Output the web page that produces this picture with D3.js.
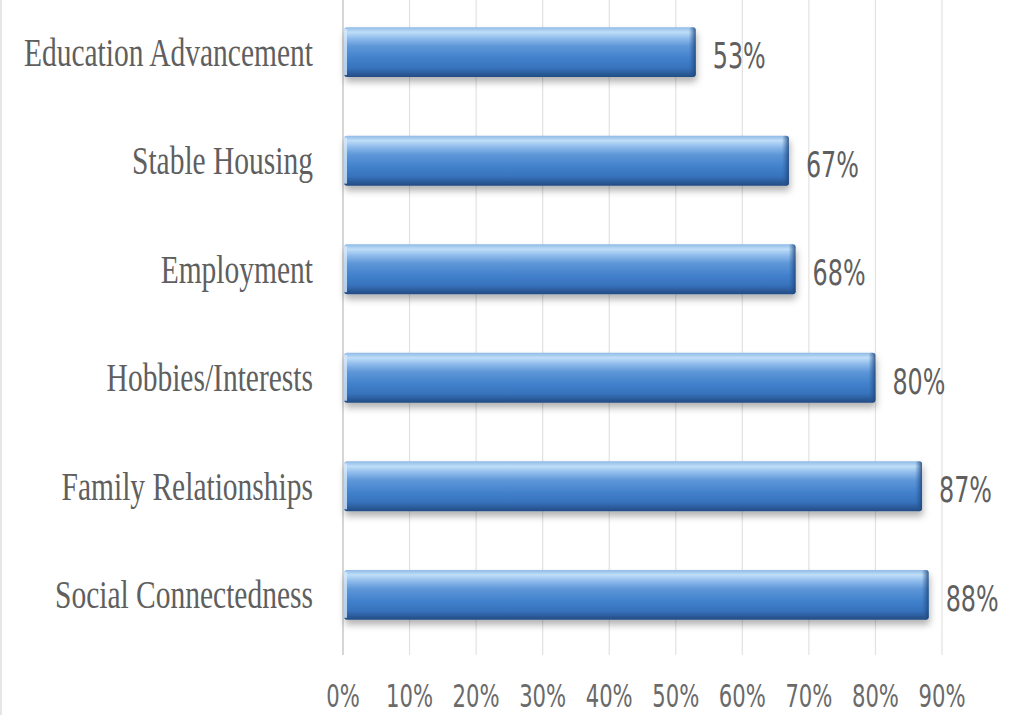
<!DOCTYPE html>
<html>
<head>
<meta charset="utf-8">
<script src="https://cdn.jsdelivr.net/npm/d3@7"></script>
<style>
  html, body { margin: 0; padding: 0; background: #fff; }
  svg { display: block; }
</style>
</head>
<body>
<div id="chart"></div>
<script>
// data
const categories = [
  "Education Advancement",
  "Stable Housing",
  "Employment",
  "Hobbies/Interests",
  "Family Relationships",
  "Social Connectedness"
];
const values = [0.53, 0.67, 0.68, 0.80, 0.87, 0.88];
const tickValues = [0, 0.1, 0.2, 0.3, 0.4, 0.5, 0.6, 0.7, 0.8, 0.9];

const width = 1012;
const height = 715;
const margin = { top: 0, right: 70, bottom: 68, left: 343 };

const svg = d3.select("#chart")
  .append("svg")
  .attr("width", width)
  .attr("height", height);

const defs = svg.append("defs");

const grad = defs.append("linearGradient")
  .attr("id", "barGrad")
  .attr("x1", 0).attr("y1", 0).attr("x2", 0).attr("y2", 1);
[
  [0, "#8fb9e6"],
  [0.1, "#bfdef8"],
  [0.22, "#90bcec"],
  [0.38, "#5e97d8"],
  [0.62, "#4281cc"],
  [0.82, "#3772bc"],
  [1, "#234b82"]
].forEach(([o, c]) => grad.append("stop").attr("offset", o).attr("stop-color", c));

const endGrad = defs.append("linearGradient")
  .attr("id", "endGrad")
  .attr("x1", 0).attr("y1", 0).attr("x2", 1).attr("y2", 0);
endGrad.append("stop").attr("offset", 0).attr("stop-color", "#2d5f9f").attr("stop-opacity", 0);
endGrad.append("stop").attr("offset", 1).attr("stop-color", "#1f4577").attr("stop-opacity", 0.85);

const shadow = defs.append("filter")
  .attr("id", "shadow")
  .attr("x", "-5%").attr("y", "-20%")
  .attr("width", "110%").attr("height", "170%");
shadow.append("feDropShadow")
  .attr("dx", 1).attr("dy", 5)
  .attr("stdDeviation", 3.5)
  .attr("flood-color", "#000")
  .attr("flood-opacity", 0.3);

const x = d3.scaleLinear()
  .domain([0, 0.9])
  .range([margin.left, width - margin.right]);

const y = d3.scaleBand()
  .domain(categories)
  .range([margin.top, height - margin.bottom])
  .paddingInner(0.54)
  .paddingOuter(0.25);

const gridBottom = 655;

// faint frame edge on the left
svg.append("line")
  .attr("x1", 1).attr("x2", 1)
  .attr("y1", 0).attr("y2", height)
  .attr("stroke", "#e6e6e6")
  .attr("stroke-width", 2);

// gridlines
svg.append("g")
  .selectAll("line")
  .data(tickValues)
  .join("line")
  .attr("x1", d => x(d))
  .attr("x2", d => x(d))
  .attr("y1", 0)
  .attr("y2", gridBottom)
  .attr("stroke", d => d === 0 ? "#c8c8c8" : "#e2e2e2")
  .attr("stroke-width", d => d === 0 ? 1.5 : 1.2);

// bars
const bars = svg.append("g")
  .selectAll("g")
  .data(categories)
  .join("g");

bars.append("rect")
  .attr("x", x(0) + 1)
  .attr("y", d => y(d))
  .attr("width", (d, i) => x(values[i]) - x(0) - 1)
  .attr("height", y.bandwidth())
  .attr("rx", 3)
  .attr("fill", "url(#barGrad)")
  .attr("filter", "url(#shadow)");

// darker bevel at the bar end
bars.append("rect")
  .attr("x", (d, i) => x(values[i]) - 7)
  .attr("y", d => y(d))
  .attr("width", 7)
  .attr("height", y.bandwidth())
  .attr("rx", 3)
  .attr("fill", "url(#endGrad)");

// light edge at the bar start
bars.append("rect")
  .attr("x", x(0) + 1)
  .attr("y", d => y(d) + 2)
  .attr("width", 3)
  .attr("height", y.bandwidth() - 4)
  .attr("fill", "#d6e8fa")
  .attr("opacity", 0.8);

const labelFont = "'Liberation Serif', 'DejaVu Serif', serif";
const numFont = "'Liberation Sans Narrow', 'DejaVu Sans Condensed', 'Liberation Sans', sans-serif";
const stretch = 1.35;

// category labels
svg.append("g")
  .selectAll("text")
  .data(categories)
  .join("text")
  .attr("transform", d => `translate(313, ${y(d) + y.bandwidth() / 2}) scale(1, ${stretch})`)
  .attr("text-anchor", "end")
  .attr("dy", "0.34em")
  .attr("font-family", labelFont)
  .attr("font-size", 29.5)
  .attr("fill", "#5f5f5f")
  .text(d => d);

// value labels
svg.append("g")
  .selectAll("text")
  .data(categories)
  .join("text")
  .attr("transform", (d, i) => `translate(${x(values[i]) + 17}, ${y(d) + y.bandwidth() / 2 + 3}) scale(1, ${stretch})`)
  .attr("dy", "0.36em")
  .attr("font-family", numFont)
  .attr("font-stretch", "condensed")
  .attr("font-size", 26.5)
  .attr("fill", "#5f5f5f")
  .text((d, i) => d3.format(".0%")(values[i]));

// x axis tick labels
svg.append("g")
  .selectAll("text")
  .data(tickValues)
  .join("text")
  .attr("transform", d => `translate(${x(d)}, 696) scale(1, ${stretch})`)
  .attr("text-anchor", "middle")
  .attr("dy", "0.36em")
  .attr("font-family", numFont)
  .attr("font-stretch", "condensed")
  .attr("font-size", 23.5)
  .attr("fill", "#6a6a6a")
  .text(d => d3.format(".0%")(d));
</script>
</body>
</html>
